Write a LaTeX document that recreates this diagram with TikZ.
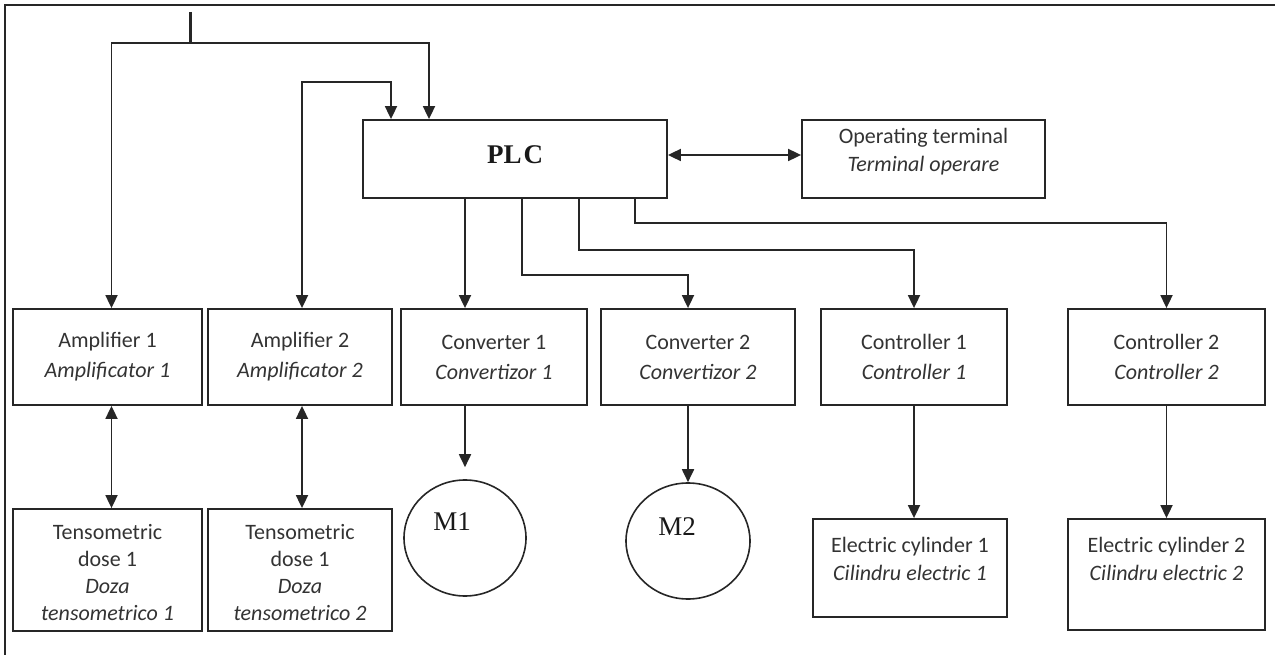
\documentclass[tikz,border=0pt]{standalone}
\usepackage{fontspec}
\setmainfont{Carlito}
\newfontfamily\seriffont{Liberation Serif}
\usetikzlibrary{arrows.meta,shapes.geometric}
\tikzset{
  box/.style={draw=black!85, line width=1.8pt, inner sep=0pt, align=center,
    text=black!80, font=\fontsize{22}{30}\selectfont},
  conn/.style={draw=black!85, line width=1.8pt},
  tip/.tip={Triangle[length=13pt,width=12pt]},
  arr/.style={conn, -tip},
  arrb/.style={conn, tip-tip},
  motor/.style={ellipse, draw=black!85, line width=1.6pt, inner sep=0pt},
  lbl/.style={text=black!80, align=center, font=\fontsize{22}{28}\selectfont},
  serlbl/.style={text=black!90, font=\seriffont\fontsize{27}{30}\selectfont}
}
\begin{document}
\begin{tikzpicture}[x=1pt,y=-1pt]
\useasboundingbox (0,0) rectangle (1275,655);
% frame
\draw[line width=2pt, black!85] (1275,5) -- (5,5) -- (5,655);

% PLC and terminal
\node[box, minimum width=304pt, minimum height=78pt] (plc) at (515,159) {};
\node[serlbl, font=\seriffont\bfseries\fontsize{27}{30}\selectfont] (plct) at (515,155) {PL\kern2pt C};
\node[box, minimum width=243pt, minimum height=78pt] (ot) at (923.5,159) {};
\node[lbl] (ott) at (923.5,152) {Operating terminal\\\textit{Terminal operare}};

% row 1
\node[box, minimum width=189pt, minimum height=96pt] (amp1) at (107.5,357) {Amplifier 1\\\textit{Amplificator 1}};
\node[box, minimum width=184pt, minimum height=96pt] (amp2) at (300,357) {Amplifier 2\\\textit{Amplificator 2}};
\node[box, minimum width=186pt, minimum height=96pt] (cv1) at (494,357) {Converter 1\\\textit{Convertizor 1}};
\node[box, minimum width=194pt, minimum height=96pt] (cv2) at (698,357) {Converter 2\\\textit{Convertizor 2}};
\node[box, minimum width=186pt, minimum height=96pt] (ct1) at (914,357) {Controller 1\\\textit{Controller 1}};
\node[box, minimum width=197pt, minimum height=96pt] (ct2) at (1166.5,357) {Controller 2\\\textit{Controller 2}};

% row 2
\node[box, minimum width=189pt, minimum height=122pt] (ts1) at (107.5,570) {};
\node[lbl, font=\fontsize{22}{27}\selectfont] (ts1t) at (107.5,573) {Tensometric\\dose 1\\\textit{Doza}\\\textit{tensometrico 1}};
\node[box, minimum width=184pt, minimum height=122pt] (ts2) at (300,570) {};
\node[lbl, font=\fontsize{22}{27}\selectfont] (ts2t) at (300,573) {Tensometric\\dose 1\\\textit{Doza}\\\textit{tensometrico 2}};
\node[motor, minimum width=122pt, minimum height=116pt] (m1) at (465,538) {};
\node[serlbl] (m1t) at (452,522) {M1};
\node[motor, minimum width=124pt, minimum height=116pt] (m2) at (688,541) {};
\node[serlbl] (m2t) at (677,527) {M2};
\node[box, minimum width=194pt, minimum height=98pt] (ec1) at (910,568) {};
\node[lbl] (ec1t) at (910,559) {Electric cylinder 1\\\textit{Cilindru electric 1}};
\node[box, minimum width=197pt, minimum height=111pt] (ec2) at (1166.5,574.5) {};
\node[lbl] (ec2t) at (1166.5,559) {Electric cylinder 2\\\textit{Cilindru electric 2}};

% input
\coordinate (in) at (190,12);
\coordinate (jn) at (190,43);
\coordinate (k1) at (302,82);
\draw[draw=black!85, line width=3pt] (in) -- (jn);
\draw[arr] (jn) -| ([xshift=4pt]amp1.north);
\draw[arr] (jn) -| ([xshift=-86pt]plc.north);
\draw[arrb] ([xshift=2pt]amp2.north) -- (k1) -| ([xshift=-124pt]plc.north);

% PLC <-> terminal
\draw[arrb] ([yshift=4pt]plc.east) -- ([yshift=4pt]ot.west);

% PLC outputs
\coordinate (p1) at ([xshift=-50pt]plc.south);
\coordinate (p2) at ([xshift=7pt]plc.south);
\coordinate (p3) at ([xshift=64pt]plc.south);
\coordinate (p4) at ([xshift=120pt]plc.south);
\draw[arr] (p1) -- (p1 |- cv1.north);
\draw[arr] (p2) -- ++(0,76) -| ([xshift=-10pt]cv2.north);
\draw[arr] (p3) -- ++(0,51) -| (ct1.north);
\draw[arr] (p4) -- ++(0,24) -| (ct2.north);

% vertical links
\draw[arrb] ([xshift=4pt]amp1.south) -- ([xshift=4pt]ts1.north);
\draw[arrb] ([xshift=2pt]amp2.south) -- ([xshift=2pt]ts2.north);
\coordinate (m1tip) at ([yshift=12pt]m1.north);
\draw[arr] (m1.north |- cv1.south) -- (m1tip);
\draw[arr] (m2.north |- cv2.south) -- (m2.north);
\draw[arr] (ct1.south) -- (ct1.south |- ec1.north);
\draw[arr] (ct2.south) -- (ec2.north);
\end{tikzpicture}
\end{document}
